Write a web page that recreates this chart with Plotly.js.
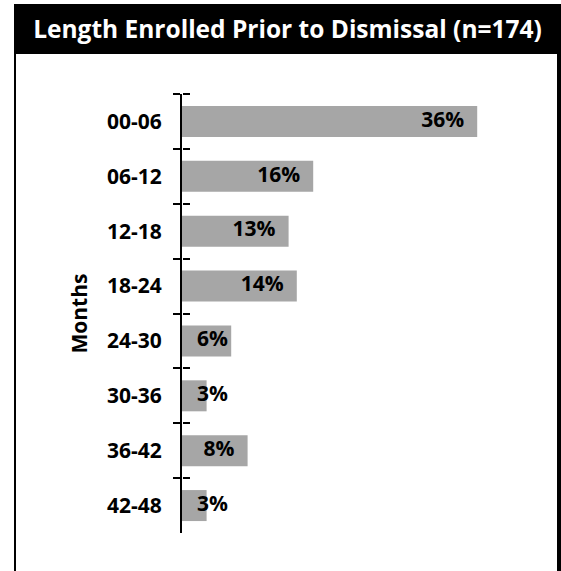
<!DOCTYPE html>
<html>
<head>
<meta charset="utf-8">
<script src="https://cdn.plot.ly/plotly-3.0.1.min.js"></script>
<style>
  html, body { margin: 0; padding: 0; background: #fff; }
  #frame { position: absolute; left: 14px; top: 4px; width: 547px; height: 567px;
           box-sizing: border-box; border-left: 2px solid #000; border-right: 4px solid #000; }
  #header { position: absolute; left: 14px; top: 4px; width: 547px; height: 50px; background: #000; }
  #chart { position: absolute; left: 0; top: 0; width: 561px; height: 571px; }
</style>
</head>
<body>
<div id="frame"></div>
<div id="header"></div>
<div id="chart"></div>
<script>
const titleText = "Length Enrolled Prior to Dismissal (n=174)";
const axisTitle = "Months";
const categories = ["00-06", "06-12", "12-18", "18-24", "24-30", "30-36", "36-42", "42-48"];
const percents = [36, 16, 13, 14, 6, 3, 8, 3];
const labels = percents.map(v => v + "%");

const FONT = "Open Sans, Lato, sans-serif";

const bars = {
  type: "bar", orientation: "h",
  x: percents, y: categories,
  marker: { color: "#A6A6A6", line: { width: 0 } },
  hoverinfo: "skip",
  xaxis: "x", yaxis: "y"
};
const labelTrace = {
  type: "scatter", mode: "text",
  x: percents.map(v => Math.max(v - 1.6, 5.6)),
  y: categories,
  text: labels,
  textposition: "middle left",
  textfont: { family: FONT, size: 21, color: "#000", weight: 700 },
  hoverinfo: "skip",
  xaxis: "x", yaxis: "y2",
  cliponaxis: false
};

const catAxis = {
  type: "category",
  categoryorder: "array", categoryarray: categories,
  range: [7.5, -0.5],
  tickson: "boundaries",
  showgrid: false, zeroline: false
};

const layout = {
  width: 561, height: 571,
  margin: { l: 182, r: 51, t: 94, b: 38 },
  paper_bgcolor: "rgba(0,0,0,0)", plot_bgcolor: "rgba(0,0,0,0)",
  showlegend: false,
  bargap: 0.435,
  title: {
    text: titleText,
    font: { family: FONT, size: 24.5, color: "#fff", weight: 700 },
    xref: "container", x: 287.5 / 561, xanchor: "center",
    yref: "container", y: 1 - 29 / 571, yanchor: "middle"
  },
  xaxis: {
    range: [0, 40], visible: false, fixedrange: true
  },
  yaxis: Object.assign({}, catAxis, {
    showline: true, linecolor: "#000", linewidth: 2,
    ticks: "outside", ticklen: 7, tickwidth: 2, tickcolor: "#000",
    ticklabelstandoff: 14,
    tickfont: { family: FONT, size: 21, color: "#000", weight: 700 },
    title: { text: axisTitle, standoff: 14, font: { family: FONT, size: 21, color: "#000", weight: 700 } }
  }),
  yaxis2: Object.assign({}, catAxis, {
    overlaying: "y", side: "right", anchor: "free", position: 0,
    showline: false,
    ticks: "outside", ticklen: 7, tickwidth: 2, tickcolor: "#000",
    showticklabels: false
  })
};

Plotly.newPlot("chart", [bars, labelTrace], layout, { displayModeBar: false, staticPlot: true });
</script>
</body>
</html>
